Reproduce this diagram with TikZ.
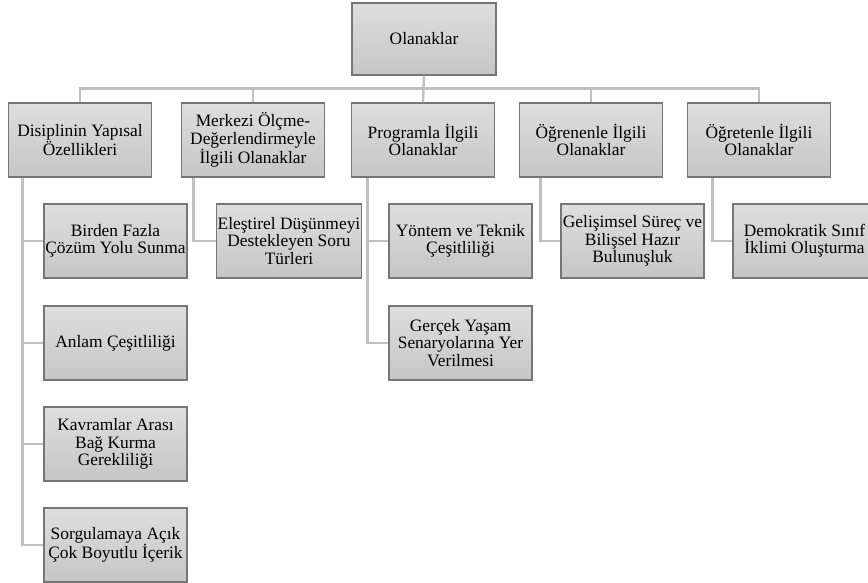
\documentclass[tikz,border=0pt]{standalone}
\usepackage{fontspec}
\setmainfont{Liberation Serif}
\usepackage{xcolor}
\usetikzlibrary{positioning,shapes,shadows}

\definecolor{boxtop}{RGB}{222,222,222}
\definecolor{boxbot}{RGB}{198,198,198}
\definecolor{boxline}{RGB}{118,118,118}
\definecolor{linkgray}{RGB}{192,192,192}

\begin{document}
\begin{tikzpicture}[x=1pt,y=-1pt,
  box/.style={draw=boxline,line width=1.2pt,top color=boxtop,bottom color=boxbot,
    minimum width=143pt,minimum height=74pt,align=center,inner sep=1pt,
    font=\fontsize{17.4}{17.4}\selectfont},
  link/.style={draw=linkgray,line width=2.4pt}]
\useasboundingbox (0,0) rectangle (868,583);
% top
\node[box,minimum width=144pt,minimum height=72pt] (ol) at (424,39) {Olanaklar};
% first level
\node[box] (dis) at (80,140) {Disiplinin Yapısal\\Özellikleri};
\node[box] (merk) at (253,140) {Merkezi Ölçme-\\Değerlendirmeyle\\İlgili Olanaklar};
\node[box] (prog) at (423,140) {Programla İlgili\\Olanaklar};
\node[box] (ogren) at (591,140) {Öğrenenle İlgili\\Olanaklar};
\node[box] (ogret) at (759,140) {Öğretenle İlgili\\Olanaklar};
% second level
\node[box] (birden) at (115.5,241) {Birden Fazla\\Çözüm Yolu Sunma};
\node[box] (anlam) at (115.5,343) {Anlam Çeşitliliği};
\node[box] (kavram) at (115.5,444) {Kavramlar Arası\\Bağ Kurma\\Gerekliliği};
\node[box] (sorgu) at (115.5,545) {Sorgulamaya Açık\\Çok Boyutlu İçerik};
\node[box] (elest) at (289,241) {Eleştirel Düşünmeyi\\Destekleyen Soru\\Türleri};
\node[box] (yontem) at (460.5,241) {Yöntem ve Teknik\\Çeşitliliği};
\node[box] (gercek) at (460.5,343) {Gerçek Yaşam\\Senaryolarına Yer\\Verilmesi};
\node[box] (gelis) at (632.5,241) {Gelişimsel Süreç ve\\Bilişsel Hazır\\Bulunuşluk};
\node[box] (demo) at (804.5,241) {Demokratik Sınıf\\İklimi Oluşturma};
% connectors
\draw[link] (dis.north) -- ++(0,-14) -| (ogret.north);
\draw[link] (ol.south) -- (prog.north);
\foreach \n in {merk,ogren}
  \draw[link] (\n.north) -- ++(0,-14);
\foreach \p/\o/\c in {dis/14.5/birden,dis/14.5/anlam,dis/14.5/kavram,dis/14.5/sorgu,
    merk/12.5/elest,prog/16.5/yontem,prog/16.5/gercek,ogren/21.5/gelis,ogret/25.5/demo}
  \draw[link] (\p.south west) ++(\o,0) |- (\c.west);
\end{tikzpicture}
\end{document}
